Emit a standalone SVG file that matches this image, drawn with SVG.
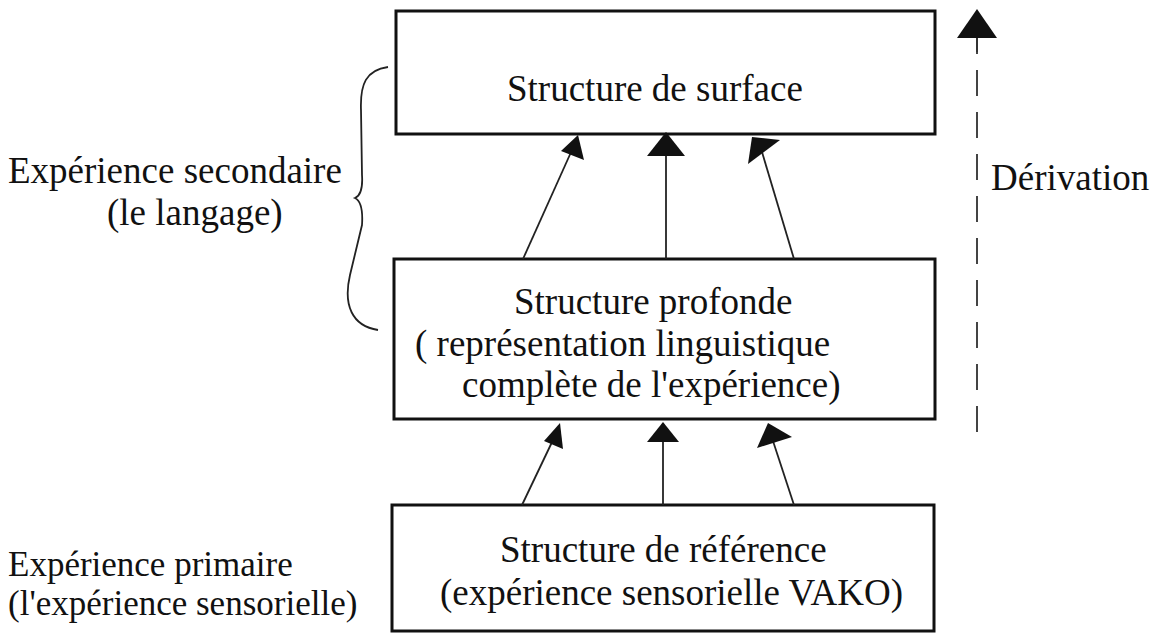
<svg xmlns="http://www.w3.org/2000/svg" width="1160" height="633" viewBox="0 0 1160 633">
<style>
.box{fill:#fff;stroke:#111;stroke-width:3}
.t{font-family:"Liberation Serif","Times New Roman",serif;font-size:37px;fill:#111}
.s{font-size:35px}
.c{stroke:#222;stroke-width:1.8;fill:none}
.d{stroke:#444;stroke-width:2;fill:none;stroke-dasharray:26,16}
.h{fill:#111}
</style>
<rect width="1160" height="633" fill="#fff"/>
<g id="surface">
<rect class="box" x="396" y="11" width="539" height="123"/>
<text class="t" x="507" y="101">Structure de surface</text>
</g>
<g id="profonde">
<rect class="box" x="394" y="259" width="541" height="160"/>
<text class="t" x="514" y="314">Structure profonde</text>
<text class="t" x="415" y="356">( représentation linguistique</text>
<text class="t" x="462" y="397">complète de l'expérience)</text>
</g>
<g id="reference">
<rect class="box" x="392" y="505" width="542" height="126"/>
<text class="t" x="500" y="562">Structure de référence</text>
<text class="t" x="440" y="605">(expérience sensorielle VAKO)</text>
</g>
<g id="secondaire">
<text class="t" x="8" y="183">Expérience secondaire</text>
<text class="t" x="107" y="225">(le langage)</text>
<path class="c" d="M388,67 C366,70 360,84 361,110 L362,175 C363,190 360,196 355,198 C361,201 363,210 362,225 L350,275 C343,305 352,326 378,330"/>
</g>
<g id="primaire">
<text class="t s" x="8" y="576">Expérience primaire</text>
<text class="t s" x="8" y="615">(l'expérience sensorielle)</text>
</g>
<g id="derivation">
<text class="t" x="991" y="190">Dérivation</text>
</g>
<g id="connectors">
<line class="c" x1="523" y1="259" x2="572" y2="150"/>
<polygon class="h" points="578,135 584,160 561,151"/>
<line class="c" x1="666" y1="259" x2="666" y2="150"/>
<polygon class="h" points="666,132 685,156 647,156"/>
<line class="c" x1="794" y1="259" x2="762" y2="152"/>
<polygon class="h" points="780,140 748,164 752,137"/>
<line class="c" x1="522" y1="505" x2="553" y2="440"/>
<polygon class="h" points="560,423 563,449 544,441"/>
<line class="c" x1="663" y1="505" x2="663" y2="440"/>
<polygon class="h" points="663,422 679,442 647,442"/>
<line class="c" x1="794" y1="505" x2="772" y2="438"/>
<polygon class="h" points="768,423 792,437 757,448"/>
<line class="d" x1="977" y1="432" x2="977" y2="40"/>
<polygon class="h" points="977,9 997,38 957,38"/>
<line x1="977" y1="38" x2="977" y2="52" stroke="#333" stroke-width="2"/>
</g>
</svg>
